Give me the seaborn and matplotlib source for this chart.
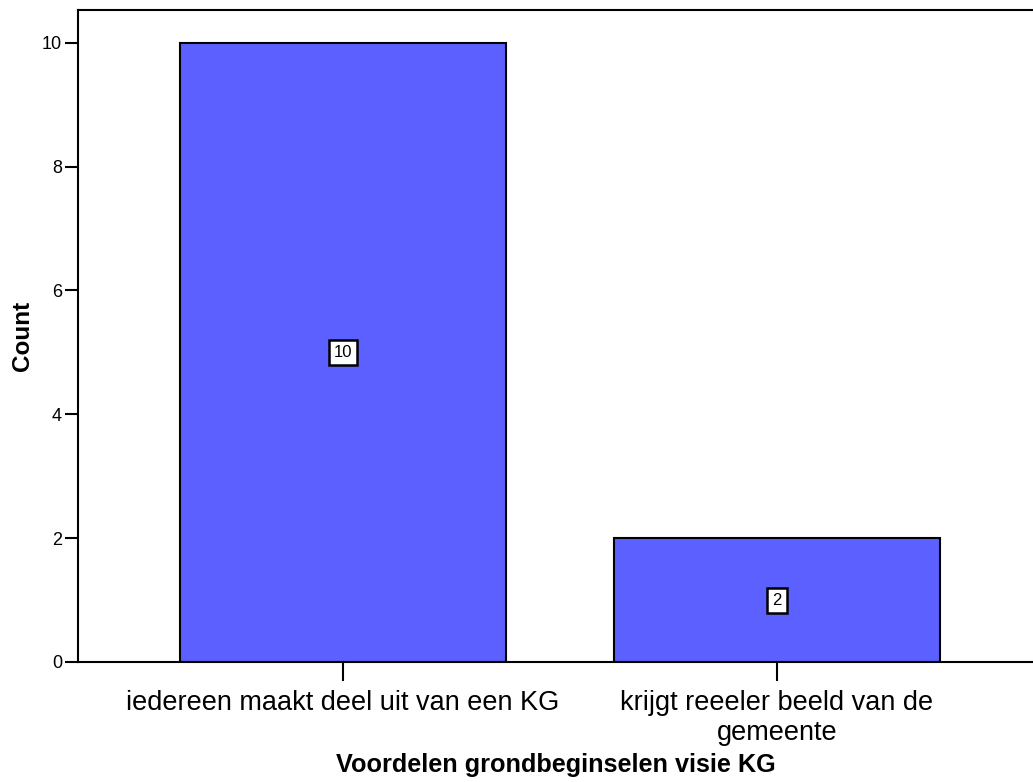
import matplotlib
matplotlib.use("Agg")
import matplotlib.pyplot as plt
import seaborn as sns
import pandas as pd

# data
categories = ["iedereen maakt deel uit van een KG",
              "krijgt reeeler beeld van de\ngemeente"]
counts = [10, 2]
y_ticks = [0, 2, 4, 6, 8, 10]

df = pd.DataFrame({"category": categories, "count": counts})

sns.set_style("white")
plt.rcParams['font.family'] = ['Liberation Sans', 'DejaVu Sans']
plt.rcParams['text.color'] = 'black'
plt.rcParams['xtick.color'] = 'black'
plt.rcParams['ytick.color'] = 'black'
plt.rcParams['axes.labelcolor'] = 'black'

fig = plt.figure(figsize=(10.33, 7.82), dpi=100)
ax = fig.add_axes([78 / 1033, 1 - 662 / 782, 1 - 78 / 1033, (662 - 10) / 782])

sns.barplot(data=df, x="category", y="count", color="#5c60ff", saturation=1,
            edgecolor="black", linewidth=1.5, width=0.75, ax=ax)

# value labels in small boxes at half bar height
for i, v in enumerate(counts):
    ax.text(i, v / 2, str(v), ha="center", va="center", fontsize=12,
            color="black",
            bbox=dict(boxstyle="square,pad=0.3", facecolor="white",
                      edgecolor="black", linewidth=1.8))

ax.set_xlim(-0.6106, 1.5899)
ax.set_ylim(0, 10.53)
ax.set_yticks(y_ticks)
ax.set_yticklabels([str(t) for t in y_ticks], fontsize=13)

for side in ["left", "top", "bottom"]:
    ax.spines[side].set_visible(True)
    ax.spines[side].set_color("black")
    ax.spines[side].set_linewidth(1.5)
ax.spines["right"].set_visible(False)

ax.tick_params(axis="y", direction="out", length=9.5, width=1.5, pad=2, left=True)
ax.tick_params(axis="x", direction="out", length=14, width=1.5, pad=6,
               labelsize=19.5, bottom=True)
for lbl in ax.get_xticklabels():
    lbl.set_ha("center")
    lbl.set_multialignment("center")
    lbl.set_linespacing(1.2)

ax.set_xlabel("Voordelen grondbeginselen visie KG", fontsize=18.2,
              fontweight="bold")
ax.xaxis.set_label_coords(0.5, (662 - 765) / 652)
ax.xaxis.label.set_va("center")
ax.set_ylabel("Count", fontsize=17.5, fontweight="bold")
ax.yaxis.set_label_coords((22 - 78) / 955, 0.5)
ax.yaxis.label.set_va("center")

fig.savefig("out.png", dpi=100, facecolor="white")
